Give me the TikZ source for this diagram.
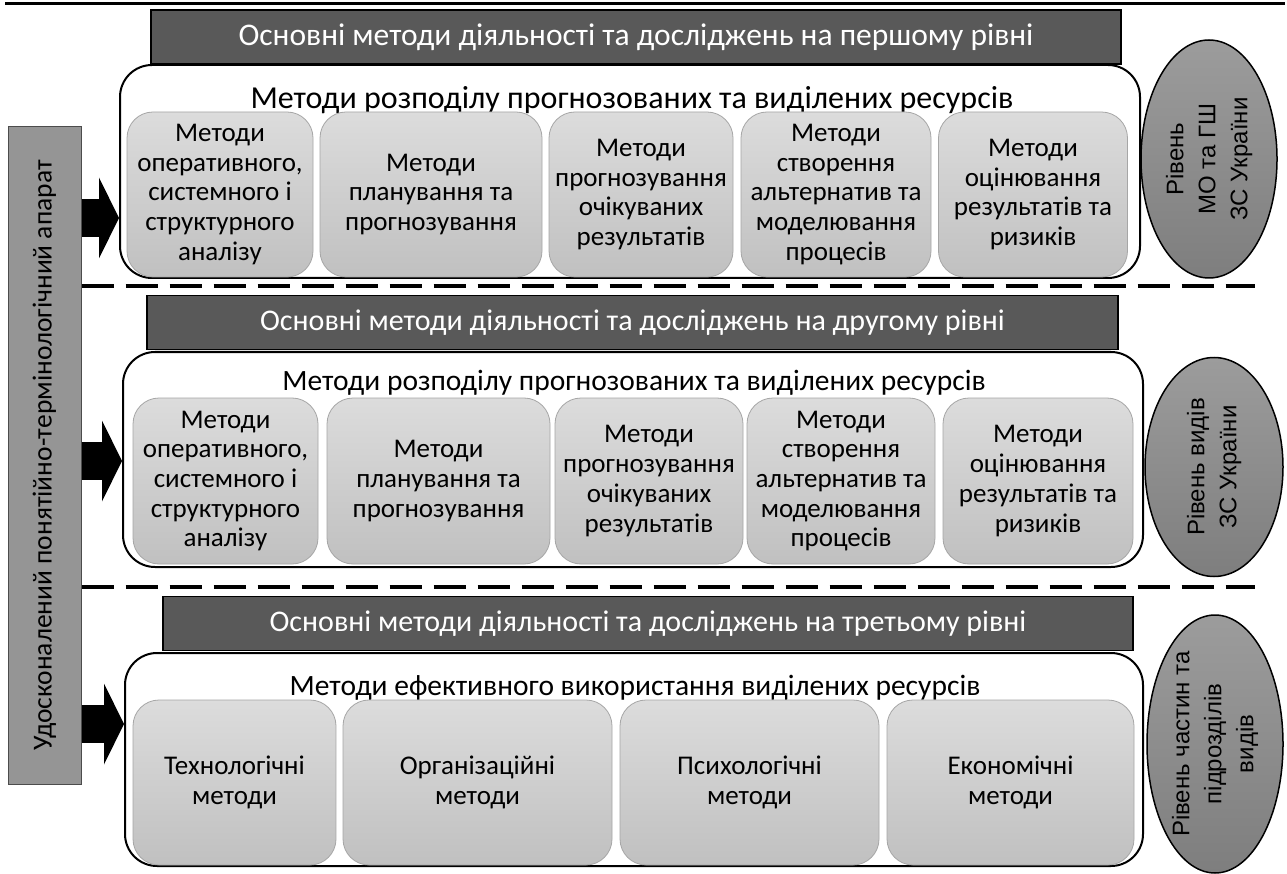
\documentclass[tikz,border=0pt]{standalone}
\usepackage{fontspec}
\usepackage{graphicx}
\setmainfont{Carlito}
\newfontfamily\arialfont{Liberation Sans}
\usetikzlibrary{arrows.meta,shapes.geometric}
\definecolor{hdrgray}{HTML}{595959}
\definecolor{bargray}{HTML}{959595}
\definecolor{boxtop}{HTML}{DCDCDC}
\definecolor{boxbot}{HTML}{C0C0C0}
\definecolor{boxedge}{HTML}{A6A6A6}
\definecolor{elltop}{HTML}{9C9C9C}
\definecolor{ellbot}{HTML}{7E7E7E}
\newcommand{\lvltext}[1]{\rotatebox{90}{\arialfont\fontsize{24}{32}\selectfont\begin{tabular}{@{}c@{}}#1\end{tabular}}}

\begin{document}
\begin{tikzpicture}[x=1pt,y=-1pt,
  hdr/.style={draw=black,line width=1.5pt,fill=hdrgray,text=white,minimum height=54pt,inner sep=0pt},
  frame/.style={draw=black,line width=2pt,fill=white,rounded corners=32pt,inner sep=0pt},
  sub/.style={inner sep=0pt},
  meth/.style={draw=boxedge,line width=0.8pt,top color=boxtop,bottom color=boxbot,rounded corners=26pt,
    align=center,font=\fontsize{27}{29.7}\selectfont,inner sep=0pt},
  lvl/.style={ellipse,draw=black,line width=1.5pt,top color=elltop,bottom color=ellbot,inner sep=-12pt},
  sepline/.style={line width=4pt,dash pattern=on 32pt off 12pt},
  bigarrow/.style={line width=38pt,-{Triangle[length=20pt,width=81pt,line width=0pt]}}
]
\useasboundingbox (0,0) rectangle (1287,874);
\draw[line width=3pt] (5,4) -- (1285,4);

\node[draw=black!70,line width=1pt,fill=bargray,rotate=90,minimum width=657pt,minimum height=73pt,inner sep=0pt,
  font=\fontsize{27.5}{30}\selectfont] (bar) at (44.5,455.5) {Удосконалений понятійно-термінологічний апарат};

% first level
\node[frame,minimum width=1020pt,minimum height=213pt] (boxA) at (630,171.5) {};
\node[hdr,minimum width=970pt,font=\fontsize{31.5}{34}\selectfont] (hdrA) at (636,37) {Основні методи діяльності та досліджень на першому рівні};
\node[sub,font=\fontsize{32}{34}\selectfont] (subA) at (632,100) {Методи розподілу прогнозованих та виділених ресурсів};
\node[meth,minimum width=186pt,minimum height=165pt] (mA1) at (220,194.5) {Методи\\оперативного,\\системного і\\структурного\\аналізу};
\node[meth,minimum width=222pt,minimum height=165pt] (mA2) at (431,194.5) {Методи\\планування та\\прогнозування};
\node[meth,minimum width=184pt,minimum height=165pt] (mA3) at (641,194.5) {Методи\\прогнозування\\очікуваних\\результатів};
\node[meth,minimum width=190pt,minimum height=165pt] (mA4) at (836,194.5) {Методи\\створення\\альтернатив та\\моделювання\\процесів};
\node[meth,minimum width=189pt,minimum height=165pt] (mA5) at (1033,194.5) {Методи\\оцінювання\\результатів та\\ризиків};
\node[lvl,minimum width=136pt,minimum height=238pt] (lvlA) at (1209,159) {\lvltext{Рівень\\МО та ГШ\\ЗС України}};
\draw[bigarrow] (bar.south |- 0,218) -- (boxA.west |- 0,218);

\coordinate (endA) at (1255,286);
\draw[sepline] (bar.south |- endA) -- (endA);

% second level
\node[frame,minimum width=1020pt,minimum height=215pt] (boxB) at (633,459.5) {};
\node[hdr,minimum width=971pt,font=\fontsize{30}{34}\selectfont] (hdrB) at (632.5,322.5) {Основні методи діяльності та досліджень на другому рівні};
\node[sub,font=\fontsize{29.5}{34}\selectfont] (subB) at (634,383) {Методи розподілу прогнозованих та виділених ресурсів};
\node[meth,minimum width=185pt,minimum height=166pt] (mB1) at (225.5,481) {Методи\\оперативного,\\системного і\\структурного\\аналізу};
\node[meth,minimum width=223pt,minimum height=166pt] (mB2) at (438.5,481) {Методи\\планування та\\прогнозування};
\node[meth,minimum width=188pt,minimum height=166pt] (mB3) at (649,481) {Методи\\прогнозування\\очікуваних\\результатів};
\node[meth,minimum width=188pt,minimum height=166pt] (mB4) at (841,481) {Методи\\створення\\альтернатив та\\моделювання\\процесів};
\node[meth,minimum width=190pt,minimum height=166pt] (mB5) at (1038,481) {Методи\\оцінювання\\результатів та\\ризиків};
\node[lvl,minimum width=138pt,minimum height=219pt] (lvlB) at (1214,467) {\lvltext{Рівень видів\\ЗС України}};
\draw[bigarrow] (bar.south |- 0,461) -- (boxB.west |- 0,461);

\coordinate (endB) at (1255,587);
\draw[sepline] (bar.south |- endB) -- (endB);

% third level
\node[frame,minimum width=1018pt,minimum height=213pt] (boxC) at (634,759.5) {};
\node[hdr,minimum width=970pt,font=\fontsize{30}{34}\selectfont] (hdrC) at (648,623.5) {Основні методи діяльності та досліджень на третьому рівні};
\node[sub,font=\fontsize{29.5}{34}\selectfont] (subC) at (635,688) {Методи ефективного використання виділених ресурсів};
\node[meth,minimum width=203pt,minimum height=165pt] (mC1) at (234.5,782.5) {Технологічні\\методи};
\node[meth,minimum width=269pt,minimum height=165pt] (mC2) at (477.5,782.5) {Організаційні\\методи};
\node[meth,minimum width=259pt,minimum height=165pt] (mC3) at (749.5,782.5) {Психологічні\\методи};
\node[meth,minimum width=247pt,minimum height=165pt] (mC4) at (1010.5,782.5) {Економічні\\методи};
\node[lvl,minimum width=136pt,minimum height=258pt] (lvlC) at (1215,744) {\lvltext{Рівень частин та\\підрозділів\\видів}};
\draw[bigarrow] (bar.south |- 0,724) -- (boxC.west |- 0,724);

\end{tikzpicture}
\end{document}
